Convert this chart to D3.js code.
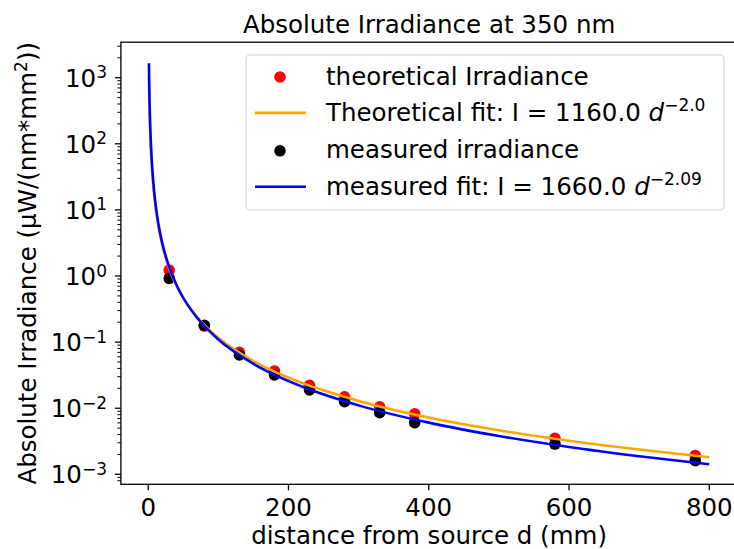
<!DOCTYPE html>
<html>
<head>
<meta charset="utf-8">
<script src="https://cdn.jsdelivr.net/npm/d3@7"></script>
<style>
  body { margin: 0; background: #fff; }
  text { font-family: "DejaVu Sans", sans-serif; fill: #000; }
</style>
</head>
<body>
<div id="chart"></div>
<script>
// measured points (distance in mm)
const distances = [30, 80, 130, 180, 230, 280, 330, 380, 580, 780];
const theoreticalIrr = [1.23, 0.175, 0.070, 0.0366, 0.0222, 0.0149, 0.0105, 0.0082, 0.0035, 0.00193];
const measuredIrr = [0.92, 0.18, 0.0638, 0.0318, 0.0189, 0.01256, 0.00857, 0.00604, 0.00287, 0.00161];

// fit curves as drawn
const fitD = [1, 1.5, 2, 3, 4, 5, 7, 10, 14, 20, 30, 45, 70, 100, 150, 220, 300, 400, 500, 600, 700, 800];
const theoFit = [1160, 516, 290, 129, 72.5, 46.4, 23.7, 11.6, 5.92, 2.90, 1.29, 0.573, 0.237, 0.116, 0.0516, 0.0240, 0.0129, 0.00725, 0.00464, 0.00322, 0.00237, 0.00181];
const measFit = [1660, 711, 390, 167, 91.6, 57.4, 28.4, 13.5, 6.68, 3.17, 1.36, 0.582, 0.231, 0.1097, 0.0470, 0.0211, 0.01104, 0.00605, 0.00380, 0.00259, 0.00188, 0.00142];

const xTicks = [0, 200, 400, 600, 800];
const yExponents = [-3, -2, -1, 0, 1, 2, 3];

const W = 734, H = 549;
const margin = {top: 42.2, left: 120.9};
const plotW = 616.4, plotH = 442.1;

const svg = d3.select("#chart").append("svg")
    .attr("width", W)
    .attr("height", H);

const x = d3.scaleLinear()
    .domain([-38.95, 839.95])
    .range([margin.left, margin.left + plotW]);

const y = d3.scaleLog()
    .domain([Math.pow(10, -3.151), Math.pow(10, 3.537)])
    .range([margin.top + plotH, margin.top]);

const fs = 24.5;
const dotR = 5.8;

// clip for plot area
svg.append("defs").append("clipPath").attr("id", "plotClip")
    .append("rect")
    .attr("x", margin.left).attr("y", margin.top)
    .attr("width", plotW).attr("height", plotH);

const plot = svg.append("g").attr("clip-path", "url(#plotClip)");

// scatter first, lines on top (matplotlib zorder)
plot.selectAll(".theo-pt")
    .data(distances)
    .enter().append("circle")
    .attr("class", "theo-pt")
    .attr("cx", d => x(d))
    .attr("cy", (d, i) => y(theoreticalIrr[i]))
    .attr("r", dotR)
    .attr("fill", "#ff0000");

plot.selectAll(".meas-pt")
    .data(distances)
    .enter().append("circle")
    .attr("class", "meas-pt")
    .attr("cx", d => x(d))
    .attr("cy", (d, i) => y(measuredIrr[i]))
    .attr("r", dotR)
    .attr("fill", "#000000");

const line = d3.line()
    .curve(d3.curveMonotoneX)
    .x(d => x(d[0]))
    .y(d => y(d[1]));

plot.append("path")
    .datum(fitD.map((d, i) => [d, theoFit[i]]))
    .attr("d", line)
    .attr("fill", "none")
    .attr("stroke", "#ffa500")
    .attr("stroke-width", 2.6);

plot.append("path")
    .datum(fitD.map((d, i) => [d, measFit[i]]))
    .attr("d", line)
    .attr("fill", "none")
    .attr("stroke", "#0000ff")
    .attr("stroke-width", 2.6);

// spines
svg.append("rect")
    .attr("x", margin.left).attr("y", margin.top)
    .attr("width", plotW).attr("height", plotH)
    .attr("fill", "none")
    .attr("stroke", "#000")
    .attr("stroke-width", 1.3);

// x ticks
const xAxisG = svg.append("g");
xTicks.forEach(t => {
    xAxisG.append("line")
        .attr("x1", x(t)).attr("x2", x(t))
        .attr("y1", margin.top + plotH).attr("y2", margin.top + plotH + 6)
        .attr("stroke", "#000").attr("stroke-width", 1.3);
    xAxisG.append("text")
        .attr("x", x(t)).attr("y", 516)
        .attr("text-anchor", "middle")
        .attr("font-size", fs)
        .text(t);
});

// y minor ticks
const [yMin, yMax] = y.domain();
for (let e = -4; e <= 3; e++) {
    for (let k = 2; k <= 9; k++) {
        const v = k * Math.pow(10, e);
        if (v < yMin || v > yMax) continue;
        svg.append("line")
            .attr("x1", margin.left - 3.5).attr("x2", margin.left)
            .attr("y1", y(v)).attr("y2", y(v))
            .attr("stroke", "#000").attr("stroke-width", 1);
    }
}

// y major ticks with 10^n labels
yExponents.forEach(e => {
    const yy = y(Math.pow(10, e));
    svg.append("line")
        .attr("x1", margin.left - 6).attr("x2", margin.left)
        .attr("y1", yy).attr("y2", yy)
        .attr("stroke", "#000").attr("stroke-width", 1.3);
    const t = svg.append("text")
        .attr("x", 107).attr("y", yy + 9)
        .attr("text-anchor", "end")
        .attr("font-size", fs);
    t.append("tspan").text("10");
    t.append("tspan")
        .attr("font-size", 17)
        .attr("dy", -8.5)
        .text(e < 0 ? "\u2212" + Math.abs(e) : String(e));
});

// title
svg.append("text")
    .attr("x", margin.left + plotW / 2).attr("y", 33)
    .attr("text-anchor", "middle")
    .attr("font-size", fs)
    .text("Absolute Irradiance at 350 nm");

// x label
svg.append("text")
    .attr("x", margin.left + plotW / 2).attr("y", 544)
    .attr("text-anchor", "middle")
    .attr("font-size", fs)
    .text("distance from source d (mm)");

// y label
const yl = svg.append("text")
    .attr("transform", `translate(36,${margin.top + plotH / 2}) rotate(-90)`)
    .attr("text-anchor", "middle")
    .attr("font-size", fs);
yl.append("tspan").text("Absolute Irradiance (\u00b5W/(nm*mm");
yl.append("tspan").attr("font-size", 17).attr("dy", -9).text("2");
yl.append("tspan").attr("dy", 9).text("))");

// legend
const lg = svg.append("g");
lg.append("rect")
    .attr("x", 246).attr("y", 55)
    .attr("width", 478).attr("height", 155)
    .attr("rx", 4)
    .attr("fill", "#fff").attr("fill-opacity", 0.8)
    .attr("stroke", "#d6d6d6").attr("stroke-width", 1.2);

const legendItems = [
    {type: "dot", color: "#ff0000", label: "theoretical Irradiance"},
    {type: "line", color: "#ffa500", label: "Theoretical fit: I = 1160.0 ", sup: "\u22122.0"},
    {type: "dot", color: "#000000", label: "measured irradiance"},
    {type: "line", color: "#0000ff", label: "measured fit: I = 1660.0 ", sup: "\u22122.09"}
];

legendItems.forEach((it, i) => {
    const cy = 76 + i * 36.9;
    if (it.type === "dot") {
        lg.append("circle")
            .attr("cx", 280).attr("cy", cy + 1)
            .attr("r", dotR).attr("fill", it.color);
    } else {
        lg.append("line")
            .attr("x1", 255).attr("x2", 306)
            .attr("y1", cy).attr("y2", cy)
            .attr("stroke", it.color).attr("stroke-width", 2.6);
    }
    const t = lg.append("text")
        .attr("x", 326).attr("y", cy + 8.5)
        .attr("font-size", fs);
    t.append("tspan").text(it.label);
    if (it.sup) {
        t.append("tspan").attr("font-style", "italic").text("d");
        t.append("tspan").attr("font-size", 17).attr("dy", -10).text(it.sup);
    }
});
</script>
</body>
</html>
